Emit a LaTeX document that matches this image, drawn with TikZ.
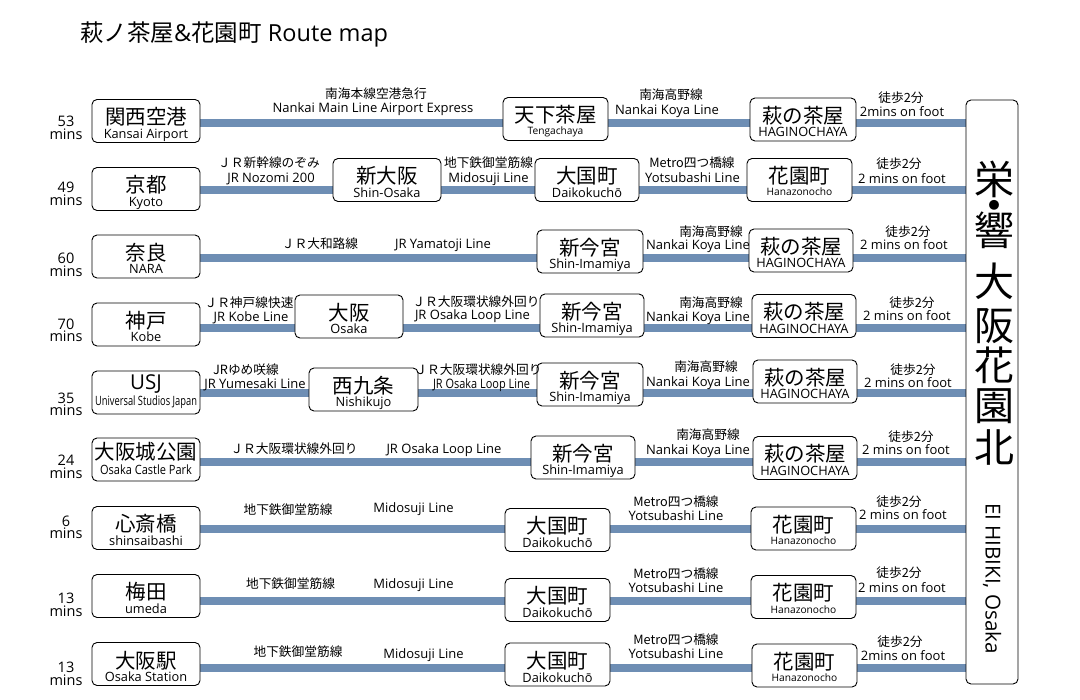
\documentclass[tikz,border=0pt]{standalone}
\usepackage{fontspec}
\usepackage{graphicx}
\setmainfont{Open Sans}
\newfontfamily\cjk{Noto Sans CJK JP}
\usetikzlibrary{backgrounds}
\definecolor{railblue}{RGB}{110,142,180}
\newcommand\hfit[2]{\resizebox{#1}{\height}{#2}}
% station: name cx cy width JP EN ENsize ENoffset
\newcommand\stn[8]{%
  \node[stbox, minimum width=#4pt] (#1) at (#2,#3) {};
  \node[jname] (#1j) at (#2,#3+4) {#5};
  \node[ename, font=\fontsize{#7}{#7}\selectfont] (#1e) at (#2,#3+#8) {#6};}
% line label: name jx jbase ex ebase JP EN
\newcommand\rl[7]{%
  \node[jlab] (#1j) at (#2,#3) {#6};
  \node[elab] (#1e) at (#4,#5) {#7};}
% minutes: name y-number y-mins number
\newcommand\mn[4]{%
  \node[minsty] (#1n) at (66,#2) {#4};
  \node[minsty] (#1m) at (66,#3) {mins};}
\tikzset{
  stbox/.style={draw=black, line width=0.9pt, rounded corners=5pt, fill=white,
    minimum height=43pt, inner sep=0pt},
  jname/.style={font=\cjk\fontsize{20.5}{22}\selectfont, anchor=base, inner sep=0pt},
  ename/.style={font=\fontsize{12.8}{14}\selectfont, anchor=base, inner sep=0pt},
  jlab/.style={font=\cjk\fontsize{12.7}{14}\selectfont, anchor=base, inner sep=0pt},
  elab/.style={font=\fontsize{13}{14}\selectfont, anchor=base, inner sep=0pt},
  minsty/.style={font=\fontsize{14.5}{14}\selectfont, anchor=base, inner sep=0pt},
  bigjp/.style={font=\cjk\fontsize{40}{40}\selectfont, anchor=base, inner sep=0pt},
  rail/.style={draw=railblue, line width=8pt},
}
\begin{document}
\begin{tikzpicture}[x=1pt,y=-1pt]
\useasboundingbox (0,0) rectangle (1080,700);

% title
\node[anchor=base west, inner sep=0pt, font=\fontsize{23.5}{25}\selectfont] (title) at (80,42)
  {{\cjk 萩ノ茶屋}\&{\cjk 花園町} Route map};

% destination box
\node[draw=black, line width=0.9pt, rounded corners=5pt, fill=white,
  minimum width=52pt, minimum height=584pt, inner sep=0pt] (R) at (992,392) {};
\node[bigjp] (v1) at (994,194.5) {栄};
\node[anchor=base, inner sep=0pt, font=\cjk\fontsize{11}{11}\selectfont] (v2) at (994,209.2) {●};
\node[bigjp] (v3) at (994,246) {響};
\node[bigjp, align=center,
  font={\cjk\fontsize{40}{25}\selectfont\lineskiplimit=-1000pt}] (vt) at (994,463)
  {大\\[19pt]阪\\[15pt]花\\[15pt]園\\[17.5pt]北};
\node[rotate=-90, inner sep=0pt, font=\fontsize{20.6}{21}\selectfont] (eh) at (992,578.5) {EI HIBIKI, Osaka};

% rail heights
\coordinate (y1) at (0,123);
\coordinate (y2) at (0,190);
\coordinate (y3) at (0,258);
\coordinate (y4) at (0,328);
\coordinate (y5) at (0,393);
\coordinate (y6) at (0,462);
\coordinate (y7) at (0,529);
\coordinate (y8) at (0,601);
\coordinate (y9) at (0,668);

% ---- row 1
\mn{m1}{127}{139.5}{53}
\stn{A1}{146}{121}{108}{関西空港}{Kansai Airport}{12.8}{17.5}
\stn{B1}{555.5}{119}{105}{天下茶屋}{Tengachaya}{10.2}{16}
\stn{C1}{803}{119.5}{106}{萩の茶屋}{HAGINOCHAYA}{12.8}{17.5}
\rl{L1a}{376}{99}{373}{113}{南海本線空港急行}{Nankai Main Line Airport Express}
\rl{L1b}{671}{100}{667}{115}{南海高野線}{Nankai Koya Line}
\rl{L1c}{901}{103}{902}{117}{徒歩2分}{2mins on foot}

% ---- row 2
\mn{m2}{192.5}{206}{49}
\stn{A2}{146}{189}{108}{京都}{Kyoto}{12.8}{17.5}
\stn{B2}{387}{180}{108}{新大阪}{Shin-Osaka}{12.8}{17.5}
\stn{C2}{587}{180}{104}{大国町}{Daikokuchō}{12.8}{17.5}
\stn{D2}{799.5}{180}{105}{花園町}{Hanazonocho}{10.2}{16}
\rl{L2a}{269}{168}{271}{183}{ＪＲ新幹線のぞみ}{JR Nozomi 200}
\rl{L2b}{488.5}{168}{488.5}{183}{地下鉄御堂筋線}{Midosuji Line}
\rl{L2c}{692}{168}{692.5}{183}{Metro四つ橋線}{Yotsubashi Line}
\rl{L2d}{899}{169}{902}{184}{徒歩2分}{2 mins on foot}

% ---- row 3
\mn{m3}{263.5}{277}{60}
\stn{A3}{146}{256.5}{108}{奈良}{NARA}{12.8}{17.5}
\stn{B3}{590}{251.5}{106}{新今宮}{Shin-Imamiya}{12.8}{17.5}
\stn{C3}{801}{250.5}{104}{萩の茶屋}{HAGINOCHAYA}{12.8}{17.5}
\rl{L3a}{320}{249}{443}{249}{ＪＲ大和路線}{JR Yamatoji Line}
\rl{L3b}{711}{237}{698}{250}{南海高野線}{Nankai Koya Line}
\rl{L3c}{908}{237}{904}{250}{徒歩2分}{2 mins on foot}

% ---- row 4
\mn{m4}{329.5}{342}{70}
\stn{A4}{146}{324.5}{108}{神戸}{Kobe}{12.8}{17.5}
\stn{B4}{349}{316.5}{108}{大阪}{Osaka}{12.8}{17.5}
\stn{C4}{592}{315.5}{104}{新今宮}{Shin-Imamiya}{12.8}{17.5}
\stn{D4}{804}{316}{104}{萩の茶屋}{HAGINOCHAYA}{12.8}{17.5}
\rl{L4a}{249}{308}{251}{322}{ＪＲ神戸線快速}{JR Kobe Line}
\rl{L4b}{476}{307}{472.5}{320}{ＪＲ大阪環状線外回り}{JR Osaka Loop Line}
\rl{L4c}{711}{308}{698}{322}{南海高野線}{Nankai Koya Line}
\rl{L4d}{912}{308}{907}{321}{徒歩2分}{2 mins on foot}

% ---- row 5
\mn{m5}{403.5}{416}{35}
\node[stbox, minimum width=108pt] (A5) at (146,392.5) {};
\node[inner sep=0pt, anchor=base, font=\fontsize{20.5}{21}\selectfont] (A5j) at (146,390) {USJ};
\node[ename] (A5e) at (146,406) {\hfit{102pt}{Universal Studios Japan}};
\stn{B5}{363.5}{389.5}{109}{西九条}{Nishikujo}{12.8}{17.5}
\stn{C5}{590}{384.5}{106}{新今宮}{Shin-Imamiya}{12.8}{17.5}
\stn{D5}{805}{381.5}{104}{萩の茶屋}{HAGINOCHAYA}{12.8}{17.5}
\rl{L5a}{246}{375}{255}{389}{JRゆめ咲線}{JR Yumesaki Line}
\rl{L5b}{478}{375}{481.5}{389}{ＪＲ大阪環状線外回り}{\hfit{97pt}{JR Osaka Loop Line}}
\rl{L5c}{706}{372}{698}{387}{南海高野線}{Nankai Koya Line}
\rl{L5d}{913}{375}{908}{388}{徒歩2分}{2 mins on foot}

% ---- row 6
\mn{m6}{466}{478.5}{24}
\node[stbox, minimum width=108pt] (A6) at (146,459.5) {};
\node[jname] (A6j) at (146,460) {大阪城公園};
\node[ename] (A6e) at (146,475) {\hfit{92pt}{Osaka Castle Park}};
\stn{B6}{583}{457.5}{104}{新今宮}{Shin-Imamiya}{12.8}{17.5}
\stn{C6}{805}{458}{104}{萩の茶屋}{HAGINOCHAYA}{12.8}{17.5}
\rl{L6a}{294}{454}{444}{454}{ＪＲ大阪環状線外回り}{JR Osaka Loop Line}
\rl{L6b}{708}{440}{698}{455}{南海高野線}{Nankai Koya Line}
\rl{L6c}{911}{442}{906}{455}{徒歩2分}{2 mins on foot}

% ---- row 7
\mn{m7}{526.5}{539}{6}
\stn{A7}{146}{528}{108}{心斎橋}{shinsaibashi}{12.8}{17.5}
\stn{B7}{557.5}{530}{105}{大国町}{Daikokuchō}{12.8}{17.5}
\stn{C7}{803.5}{528.5}{105}{花園町}{Hanazonocho}{10.2}{16}
\rl{L7a}{288}{515}{413.5}{513}{地下鉄御堂筋線}{Midosuji Line}
\rl{L7b}{676}{507}{676}{521}{Metro四つ橋線}{Yotsubashi Line}
\rl{L7c}{899}{507}{903}{520}{徒歩2分}{2 mins on foot}

% ---- row 8
\mn{m8}{603}{616}{13}
\stn{A8}{146}{596}{108}{梅田}{umeda}{12.8}{17.5}
\stn{B8}{557.5}{600}{105}{大国町}{Daikokuchō}{12.8}{17.5}
\stn{C8}{803.5}{597}{105}{花園町}{Hanazonocho}{10.2}{16}
\rl{L8a}{290.5}{589}{413.5}{589}{地下鉄御堂筋線}{Midosuji Line}
\rl{L8b}{676}{579}{676}{593}{Metro四つ橋線}{Yotsubashi Line}
\rl{L8c}{899}{577}{902}{592}{徒歩2分}{2 mins on foot}

% ---- row 9
\mn{m9}{672}{685}{13}
\stn{A9}{146}{664}{108}{大阪駅}{Osaka Station}{12.8}{17.5}
\stn{B9}{557.5}{664.5}{105}{大国町}{Daikokuchō}{12.8}{17.5}
\stn{C9}{804.5}{665.5}{105}{花園町}{Hanazonocho}{10.2}{16}
\rl{L9a}{298}{656}{423.5}{658}{地下鉄御堂筋線}{Midosuji Line}
\rl{L9b}{676}{644}{676}{658}{Metro四つ橋線}{Yotsubashi Line}
\rl{L9c}{900}{646}{903}{660}{徒歩2分}{2mins on foot}

% rails behind the stations
\begin{pgfonlayer}{background}
  \fill[white] (0,0) rectangle (1080,700);
  \draw[rail] (A1.east |- y1) -- (R.west |- y1);
  \draw[rail] (A2.east |- y2) -- (R.west |- y2);
  \draw[rail] (A3.east |- y3) -- (R.west |- y3);
  \draw[rail] (A4.east |- y4) -- (R.west |- y4);
  \draw[rail] (A5.east |- y5) -- (R.west |- y5);
  \draw[rail] (A6.east |- y6) -- (R.west |- y6);
  \draw[rail] (A7.east |- y7) -- (R.west |- y7);
  \draw[rail] (A8.east |- y8) -- (R.west |- y8);
  \draw[rail] (A9.east |- y9) -- (R.west |- y9);
\end{pgfonlayer}
\end{tikzpicture}
\end{document}
